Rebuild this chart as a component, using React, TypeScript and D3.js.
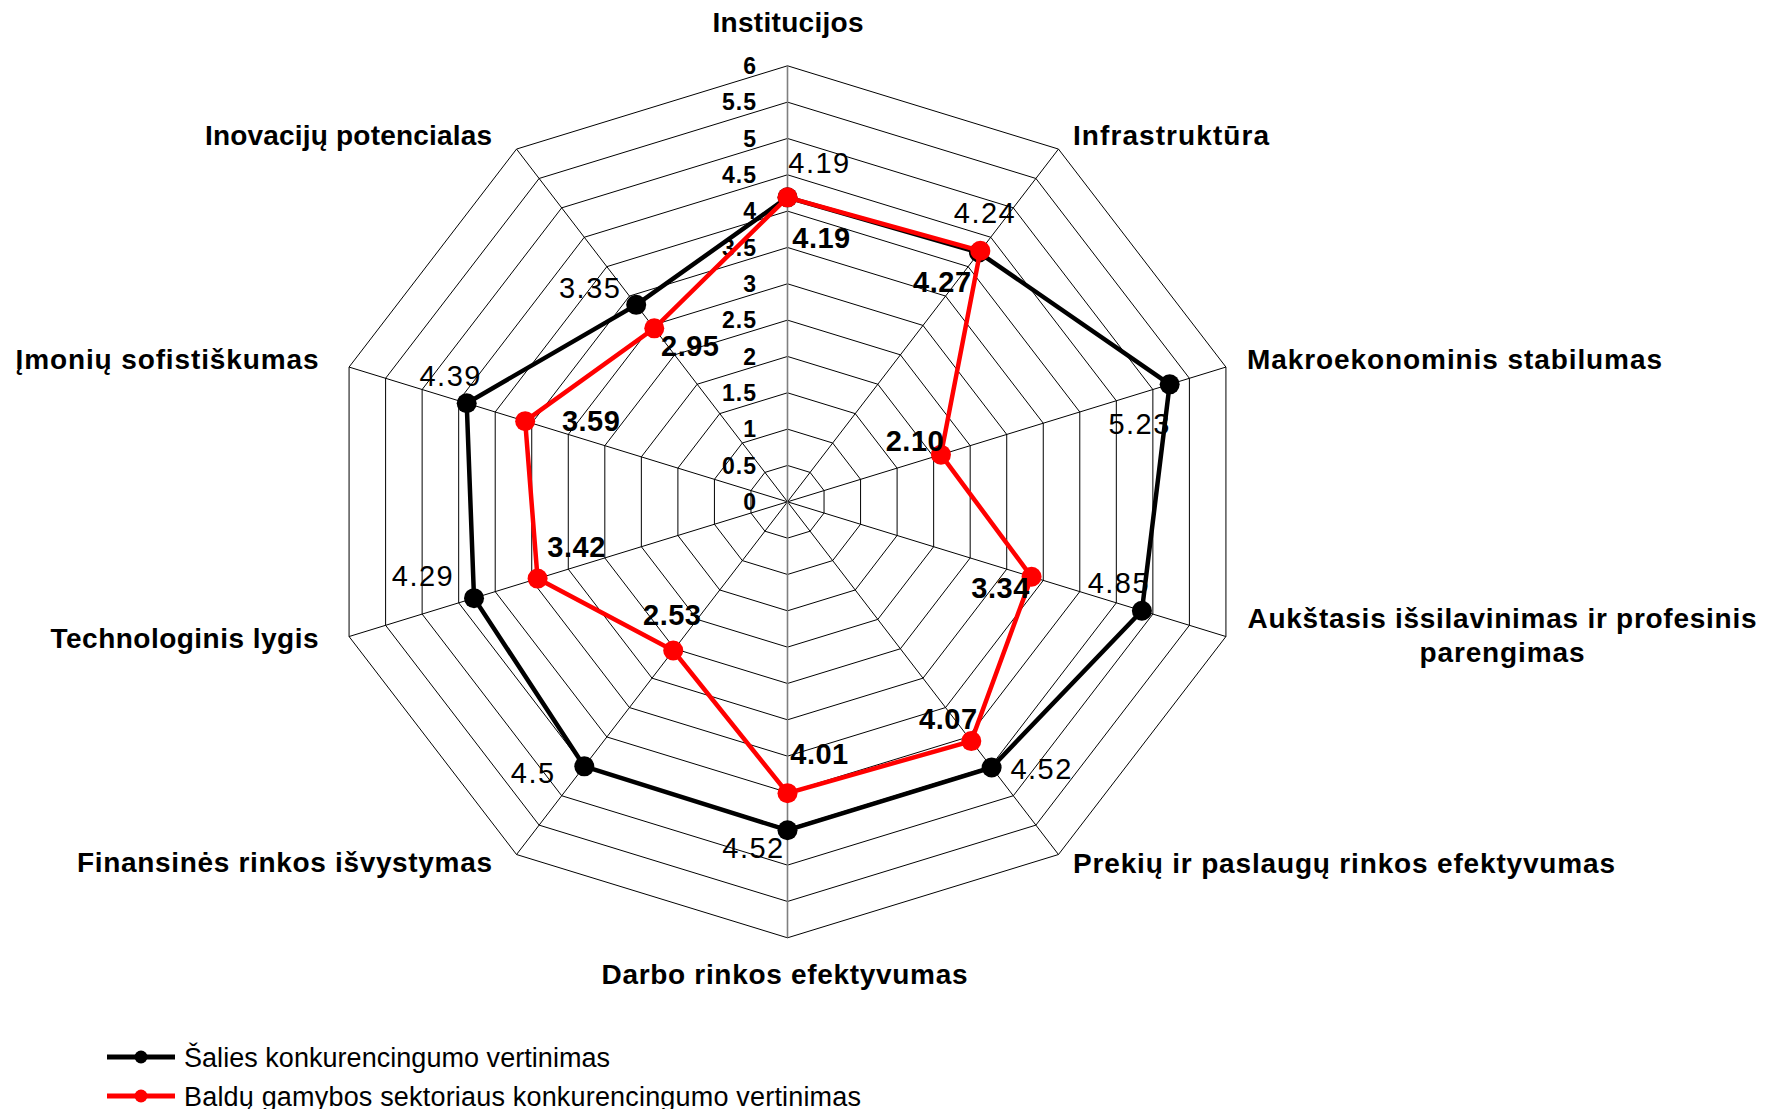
import React from "react";
import * as d3 from "d3";

const categories = [
  "Institucijos",
  "Infrastruktūra",
  "Makroekonominis stabilumas",
  "Aukštasis išsilavinimas ir profesinis parengimas",
  "Prekių ir paslaugų rinkos efektyvumas",
  "Darbo rinkos efektyvumas",
  "Finansinės rinkos išvystymas",
  "Technologinis lygis",
  "Įmonių sofistiškumas",
  "Inovacijų potencialas",
];

const countryValues = [4.19, 4.24, 5.23, 4.85, 4.52, 4.52, 4.5, 4.29, 4.39, 3.35];
const sectorValues = [4.19, 4.27, 2.1, 3.34, 4.07, 4.01, 2.53, 3.42, 3.59, 2.95];

const tickValues = [0, 0.5, 1, 1.5, 2, 2.5, 3, 3.5, 4, 4.5, 5, 5.5, 6];

const seriesNames = [
  "Šalies konkurencingumo vertinimas",
  "Baldų gamybos sektoriaus konkurencingumo vertinimas",
];
const seriesColors = ["#000000", "#ff0000"];

// ---- layout (positions only) ----
const W = 1771;
const H = 1109;
const cx = 787.5;
const cy = 501.8;
const RY = 436;
const RX = 461;
const FONT = "'Liberation Sans', Arial, Helvetica, sans-serif";

// category label placement: lines, x, baseline y, anchor, textLength per line
const catLayout = [
  { lines: ["Institucijos"], x: 788, y: 32, anchor: "middle", len: [151] },
  { lines: ["Infrastruktūra"], x: 1073, y: 145, anchor: "start", len: [196] },
  { lines: ["Makroekonominis stabilumas"], x: 1247, y: 369, anchor: "start", len: [415] },
  {
    lines: ["Aukštasis išsilavinimas ir profesinis", "parengimas"],
    x: 1502,
    y: 628,
    anchor: "middle",
    len: [509, 165],
  },
  { lines: ["Prekių ir paslaugų rinkos efektyvumas"], x: 1073, y: 873, anchor: "start", len: [542] },
  { lines: ["Darbo rinkos efektyvumas"], x: 784.5, y: 984, anchor: "middle", len: [366] },
  { lines: ["Finansinės rinkos išvystymas"], x: 492, y: 872, anchor: "end", len: [415] },
  { lines: ["Technologinis lygis"], x: 318.5, y: 648, anchor: "end", len: [268] },
  { lines: ["Įmonių sofistiškumas"], x: 318.5, y: 369, anchor: "end", len: [303] },
  { lines: ["Inovacijų potencialas"], x: 492, y: 145, anchor: "end", len: [287] },
];

// data label offsets (label centre relative to point)
const countryLabelOffsets = [
  [32, -35], [6, -40], [-30, 39], [-23, -28], [50, 1],
  [-34, 17], [-51, 6], [-51, -23], [-16, -28], [-46, -17],
];
const sectorLabelOffsets = [
  [34, 40], [-38, 31], [-26, -14], [-31, 11], [-23, -22],
  [32, -40], [-1, -36], [39, -32], [66, -1], [36, 17],
];
const legendTextLen = [426, 677];

export default function App() {
  const n = categories.length;
  const angle = d3
    .scaleLinear()
    .domain([0, n])
    .range([0, 2 * Math.PI]);
  const rx = d3.scaleLinear().domain([0, 6]).range([0, RX]);
  const ry = d3.scaleLinear().domain([0, 6]).range([0, RY]);

  const pt = (i: number, v: number): [number, number] => {
    const a = angle(i);
    return [cx + rx(v) * Math.sin(a), cy - ry(v) * Math.cos(a)];
  };

  const ringPath = (v: number) => {
    const pts = d3.range(n).map((i) => pt(i, v));
    return d3.line().curve(d3.curveLinearClosed)(pts as [number, number][]) || "";
  };

  const seriesPath = (vals: number[]) =>
    d3.line().curve(d3.curveLinearClosed)(vals.map((v, i) => pt(i, v))) || "";

  const series = [
    { vals: countryValues, color: seriesColors[0], offsets: countryLabelOffsets, bold: false, fmt: (v: number) => String(v) },
    { vals: sectorValues, color: seriesColors[1], offsets: sectorLabelOffsets, bold: true, fmt: (v: number) => v.toFixed(2) },
  ];

  return (
    <svg
      width={W}
      height={H}
      viewBox={`0 0 ${W} ${H}`}
      style={{ position: "absolute", left: 0, top: 0, background: "#fff" }}
      fontFamily={FONT}
    >
      <rect x={0} y={0} width={W} height={H} fill="#fff" />
      {/* rings */}
      <g fill="none" stroke="#000" strokeWidth={1}>
        {tickValues
          .filter((t) => t > 0)
          .map((t) => (
            <path key={t} d={ringPath(t)} />
          ))}
      </g>
      {/* spokes */}
      <g stroke="#000" strokeWidth={1}>
        {d3.range(n).map((i) => {
          if (i === 0) return null;
          const [x, y] = pt(i, 6);
          return <line key={i} x1={cx} y1={cy} x2={x} y2={y} />;
        })}
      </g>
      {/* value axis */}
      <line x1={cx} y1={cy} x2={pt(0, 6)[0]} y2={pt(0, 6)[1]} stroke="#7f7f7f" strokeWidth={1.6} />
      <line x1={cx} y1={cy} x2={pt(5, 6)[0]} y2={pt(5, 6)[1]} stroke="#7f7f7f" strokeWidth={1.6} />

      {/* tick labels */}
      <g fontWeight="bold" fontSize={23} textAnchor="end" fill="#000">
        {tickValues.map((t) => (
          <text key={t} x={757} y={cy - ry(t) + 8.2} letterSpacing={1}>
            {String(t)}
          </text>
        ))}
      </g>

      {/* series */}
      {series.map((s, si) => (
        <g key={si}>
          <path d={seriesPath(s.vals)} fill="none" stroke={s.color} strokeWidth={4.5} strokeLinejoin="miter" />
          {s.vals.map((v, i) => {
            const [x, y] = pt(i, v);
            return <circle key={i} cx={x} cy={y} r={10} fill={s.color} />;
          })}
        </g>
      ))}

      {/* data labels */}
      {series.map((s, si) => (
        <g key={"l" + si} fontSize={29} fontWeight={s.bold ? "bold" : "normal"} textAnchor="middle" fill="#000">
          {s.vals.map((v, i) => {
            const [x, y] = pt(i, v);
            const [dx, dy] = s.offsets[i];
            return (
              <text key={i} x={x + dx} y={y + dy + 10.4} letterSpacing={s.bold ? 0.5 : 1.5}>
                {s.fmt(v)}
              </text>
            );
          })}
        </g>
      ))}

      {/* category labels */}
      <g fontWeight="bold" fontSize={28} fill="#000">
        {catLayout.map((c, i) => (
          <g key={i}>
            {c.lines.map((ln, li) => (
              <text
                key={li}
                x={c.x}
                y={c.y + li * 34}
                textAnchor={c.anchor as any}
                textLength={c.len[li]}
                lengthAdjust="spacing"
              >
                {ln}
              </text>
            ))}
          </g>
        ))}
      </g>

      {/* legend */}
      {seriesNames.map((name, i) => {
        const y = 1057 + i * 39;
        return (
          <g key={name}>
            <line x1={107} x2={175} y1={y} y2={y} stroke={seriesColors[i]} strokeWidth={5} />
            <circle cx={141} cy={y} r={6.5} fill={seriesColors[i]} />
            <text x={184} y={y + 9.5} fontSize={27} fill="#000" textLength={legendTextLen[i]} lengthAdjust="spacing">
              {name}
            </text>
          </g>
        );
      })}
    </svg>
  );
}
